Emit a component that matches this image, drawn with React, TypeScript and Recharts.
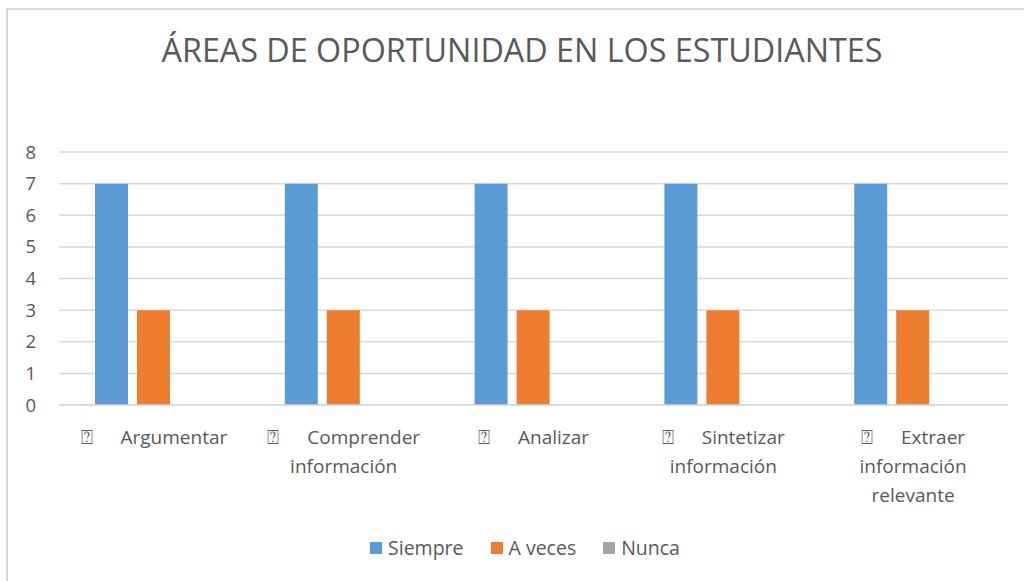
import React from "react";
import { BarChart, Bar, XAxis, YAxis, CartesianGrid, Legend } from "recharts";

const categories = [
    "Argumentar",
    "Comprender\ninformación",
    "Analizar",
    "Sintetizar\ninformación",
    "Extraer\ninformación\nrelevante",
];
const siempre = [7, 7, 7, 7, 7];
const aVeces = [3, 3, 3, 3, 3];
const nunca = [0, 0, 0, 0, 0];
const yTicks = [0, 1, 2, 3, 4, 5, 6, 7, 8];

const series = [
    { key: "siempre", name: "Siempre", color: "#5B9BD5" },
    { key: "aVeces", name: "A veces", color: "#ED7D31" },
    { key: "nunca", name: "Nunca", color: "#A5A5A5" },
];

const data = categories.map((name, i) => ({
    name,
    siempre: siempre[i],
    aVeces: aVeces[i],
    nunca: nunca[i],
}));

const FONT = "'Open Sans', sans-serif";
const TEXT = "#595959";

const CategoryTick = ({ x, y, payload }: any) => {
    const lines = String(payload.value).split("\n");
    return (
        <text x={x} y={y} textAnchor="middle" fill={TEXT} fontSize={19} fontFamily={FONT}>
            {lines.map((line, i) =>
                i === 0 ? (
                    <tspan key={i} x={x} dy={39}>
                        <tspan fontSize={20}>⍰</tspan>
                        <tspan dx={28}>{line}</tspan>
                    </tspan>
                ) : (
                    <tspan key={i} x={x} dy={29}>
                        {line}
                    </tspan>
                )
            )}
        </text>
    );
};

const LegendContent = () => (
    <div style={{ display: "flex", justifyContent: "center", gap: 27, fontFamily: FONT, fontSize: 19.5, color: TEXT }}>
        {series.map((s) => (
            <div key={s.key} style={{ display: "flex", alignItems: "center" }}>
                <span style={{ width: 12, height: 12, background: s.color, marginRight: 6, display: "inline-block" }} />
                {s.name}
            </div>
        ))}
    </div>
);

export default function App() {
    return (
        <div style={{ position: "absolute", left: 0, top: 0, width: 1024, height: 581, overflow: "hidden", background: "#fff" }}>
            <div
                style={{
                    position: "absolute",
                    left: 6,
                    top: 8,
                    width: 1100,
                    height: 700,
                    border: "2px solid #d9d9d9",
                }}
            />
            <div
                style={{
                    position: "absolute",
                    left: 0,
                    top: 33,
                    width: 1044,
                    textAlign: "center",
                    fontFamily: FONT,
                    fontSize: 32.3,
                    lineHeight: "32px",
                    color: TEXT,
                    whiteSpace: "nowrap",
                }}
            >
                ÁREAS DE OPORTUNIDAD EN LOS ESTUDIANTES
            </div>
            <div style={{ position: "absolute", left: 0, top: 0 }}>
                <BarChart
                    width={1024}
                    height={581}
                    data={data}
                    margin={{ top: 152, right: 16, left: 0, bottom: 76 }}
                    barSize={33}
                    barGap={9}
                >
                    <CartesianGrid vertical={false} stroke="#d9d9d9" strokeWidth={1.5} />
                    <XAxis
                        dataKey="name"
                        axisLine={{ stroke: "#d9d9d9", strokeWidth: 1.5 }}
                        tickLine={false}
                        tickSize={0}
                        tickMargin={0}
                        height={100}
                        interval={0}
                        tick={<CategoryTick />}
                    />
                    <YAxis
                        domain={[0, 8]}
                        ticks={yTicks}
                        width={59}
                        axisLine={false}
                        tickLine={false}
                        tickSize={0}
                        tickMargin={23}
                        tick={{ fill: TEXT, fontSize: 18.5, fontFamily: FONT }}
                    />
                    <Legend
                        verticalAlign="middle"
                        align="center"
                        content={<LegendContent />}
                        wrapperStyle={{ top: 534, left: 0, width: 1050 }}
                    />
                    {series.map((s) => (
                        <Bar key={s.key} dataKey={s.key} name={s.name} fill={s.color} isAnimationActive={false} />
                    ))}
                </BarChart>
            </div>
        </div>
    );
}
